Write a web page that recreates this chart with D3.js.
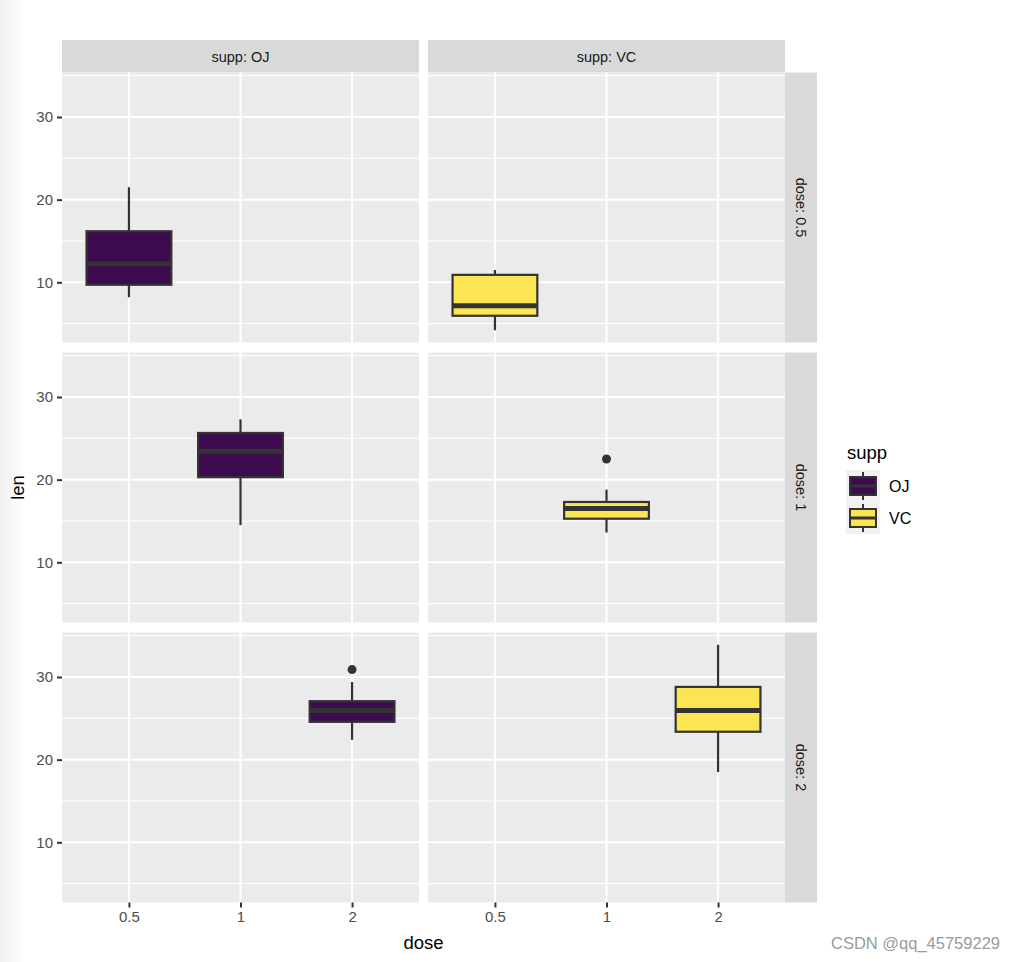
<!DOCTYPE html>
<html><head><meta charset="utf-8">
<script src="https://cdn.jsdelivr.net/npm/d3@7"></script>
<style>body{margin:0;background:#fff}svg{display:block}text{font-family:"Liberation Sans",Arial,sans-serif}</style>
</head><body>
<svg id="chart" width="1010" height="962"></svg>
<script>
// ---- data (ToothGrowth boxplot summaries) ----
const supps = ["OJ", "VC"];
const doses = ["0.5", "1", "2"];
const suppColors = ["#3d0a4f", "#fbe552"];
const groupSupp = ["OJ", "OJ", "OJ", "VC", "VC", "VC"];
const groupDose = ["0.5", "1", "2", "0.5", "1", "2"];
const lowerWhisker = [8.2, 14.5, 22.4, 4.2, 13.6, 18.5];
const q1 = [9.7, 20.3, 24.575, 5.95, 15.275, 23.375];
const median = [12.25, 23.45, 25.95, 7.15, 16.5, 25.95];
const q3 = [16.175, 25.65, 27.075, 10.9, 17.3, 28.8];
const upperWhisker = [21.5, 27.3, 29.4, 11.5, 18.8, 33.9];
const outliers = [[], [], [30.9], [], [22.5], []];
const yTicks = [10, 20, 30];
const yMinor = [5, 15, 25, 35];
const yDomain = [2.715, 35.385];

// ---- layout ----
const svg = d3.select("#chart");
const colX = [62, 428], panelW = 357;
const rowY = [72.5, 352.5, 632.5], panelH = 270;
const ink = "#333333";

// left faint shade
const defs = svg.append("defs");
const lg = defs.append("linearGradient").attr("id", "shade");
lg.append("stop").attr("offset", "0%").attr("stop-color", "#efefef");
lg.append("stop").attr("offset", "100%").attr("stop-color", "#ffffff");
svg.append("rect").attr("x", 0).attr("y", 0).attr("width", 24).attr("height", 962).attr("fill", "url(#shade)");

const x = d3.scalePoint().domain(doses).range([0, panelW]).padding(0.6);
const y = d3.scaleLinear().domain(yDomain).range([panelH, 0]);
const boxW = x.step() * 0.76;

const groups = groupSupp.map((s, i) => ({
  supp: s, dose: groupDose[i], lo: lowerWhisker[i], q1: q1[i], med: median[i],
  q3: q3[i], hi: upperWhisker[i], out: outliers[i]
}));

supps.forEach((s, ci) => {
  svg.append("rect").attr("x", colX[ci]).attr("y", 40).attr("width", panelW).attr("height", 32.5).attr("fill", "#d9d9d9");
  svg.append("text").attr("x", colX[ci] + panelW / 2).attr("y", 56.5).attr("text-anchor", "middle")
    .attr("dominant-baseline", "central").attr("font-size", 14.5).attr("fill", "#1a1a1a").text("supp: " + s);
});

doses.forEach((d, ri) => {
  svg.append("rect").attr("x", 785).attr("y", rowY[ri]).attr("width", 32).attr("height", panelH).attr("fill", "#d9d9d9");
  svg.append("text").attr("transform", `translate(801,${rowY[ri] + panelH / 2}) rotate(90)`)
    .attr("text-anchor", "middle").attr("dominant-baseline", "central").attr("font-size", 14.5)
    .attr("fill", "#1a1a1a").text("dose: " + d);

  supps.forEach((s, ci) => {
    const g = svg.append("g").attr("transform", `translate(${colX[ci]},${rowY[ri]})`);
    g.append("rect").attr("width", panelW).attr("height", panelH).attr("fill", "#ebebeb");
    g.selectAll(".minor").data(yMinor).join("line").attr("x1", 0).attr("x2", panelW)
      .attr("y1", v => y(v)).attr("y2", v => y(v)).attr("stroke", "#fff").attr("stroke-width", 1);
    g.selectAll(".majy").data(yTicks).join("line").attr("x1", 0).attr("x2", panelW)
      .attr("y1", v => y(v)).attr("y2", v => y(v)).attr("stroke", "#fff").attr("stroke-width", 2);
    g.selectAll(".majx").data(doses).join("line").attr("y1", 0).attr("y2", panelH)
      .attr("x1", v => x(v)).attr("x2", v => x(v)).attr("stroke", "#fff").attr("stroke-width", 2);

    const data = groups.filter(b => b.supp === s && b.dose === d);
    data.forEach(b => {
      const cx = x(b.dose);
      g.append("line").attr("x1", cx).attr("x2", cx).attr("y1", y(b.hi)).attr("y2", y(b.q3)).attr("stroke", ink).attr("stroke-width", 2.2);
      g.append("line").attr("x1", cx).attr("x2", cx).attr("y1", y(b.q1)).attr("y2", y(b.lo)).attr("stroke", ink).attr("stroke-width", 2.2);
      g.append("rect").attr("x", cx - boxW / 2).attr("width", boxW).attr("y", y(b.q3)).attr("height", y(b.q1) - y(b.q3))
        .attr("fill", suppColors[supps.indexOf(b.supp)]).attr("stroke", ink).attr("stroke-width", 2.2);
      g.append("line").attr("x1", cx - boxW / 2).attr("x2", cx + boxW / 2).attr("y1", y(b.med)).attr("y2", y(b.med))
        .attr("stroke", ink).attr("stroke-width", 5);
      g.selectAll(null).data(b.out).join("circle").attr("cx", cx).attr("cy", v => y(v)).attr("r", 4.5).attr("fill", ink);
    });

    if (ci === 0) {
      const ax = g.append("g").call(d3.axisLeft(y).tickValues(yTicks).tickSize(5).tickPadding(4));
      ax.select(".domain").remove();
      ax.selectAll("line").attr("stroke", ink).attr("stroke-width", 2);
      ax.selectAll("text").attr("font-size", 15).attr("fill", "#4d4d4d").attr("font-family", "Liberation Sans, Arial, sans-serif");
    }
    if (ri === 2) {
      const ax = g.append("g").attr("transform", `translate(0,${panelH})`)
        .call(d3.axisBottom(x).tickSize(5).tickPadding(4));
      ax.select(".domain").remove();
      ax.selectAll("line").attr("stroke", ink).attr("stroke-width", 2);
      ax.selectAll("text").attr("font-size", 15).attr("fill", "#4d4d4d").attr("font-family", "Liberation Sans, Arial, sans-serif");
    }
  });
});

svg.append("text").attr("x", (colX[0] + colX[1] + panelW) / 2).attr("y", 942).attr("text-anchor", "middle")
  .attr("dominant-baseline", "central").attr("font-size", 18.5).attr("fill", "#000").text("dose");
svg.append("text").attr("transform", `translate(17,${rowY[0] + (rowY[2] + panelH - rowY[0]) / 2}) rotate(-90)`)
  .attr("text-anchor", "middle").attr("dominant-baseline", "central").attr("font-size", 18.5).attr("fill", "#000").text("len");

const leg = svg.append("g").attr("transform", "translate(846,440)");
leg.append("text").attr("x", 1).attr("y", 12).attr("dominant-baseline", "central").attr("font-size", 18.5).attr("fill", "#000").text("supp");
supps.forEach((s, i) => {
  const ky = 30 + i * 32;
  leg.append("rect").attr("x", 0).attr("y", ky).attr("width", 34).attr("height", 32).attr("fill", "#f2f2f2");
  leg.append("line").attr("x1", 17).attr("x2", 17).attr("y1", ky + 2).attr("y2", ky + 30).attr("stroke", ink).attr("stroke-width", 2);
  leg.append("rect").attr("x", 4).attr("y", ky + 7).attr("width", 26).attr("height", 18)
    .attr("fill", suppColors[i]).attr("stroke", ink).attr("stroke-width", 2);
  leg.append("line").attr("x1", 4).attr("x2", 30).attr("y1", ky + 16).attr("y2", ky + 16).attr("stroke", ink).attr("stroke-width", 3);
  leg.append("text").attr("x", 43).attr("y", ky + 16).attr("dominant-baseline", "central").attr("font-size", 16).attr("fill", "#000").text(s);
});

svg.append("text").attr("x", 1000).attr("y", 943).attr("text-anchor", "end").attr("dominant-baseline", "central")
  .attr("font-size", 16.5).attr("fill", "#9a9a9a").text("CSDN @qq_45759229");
</script>
</body></html>
